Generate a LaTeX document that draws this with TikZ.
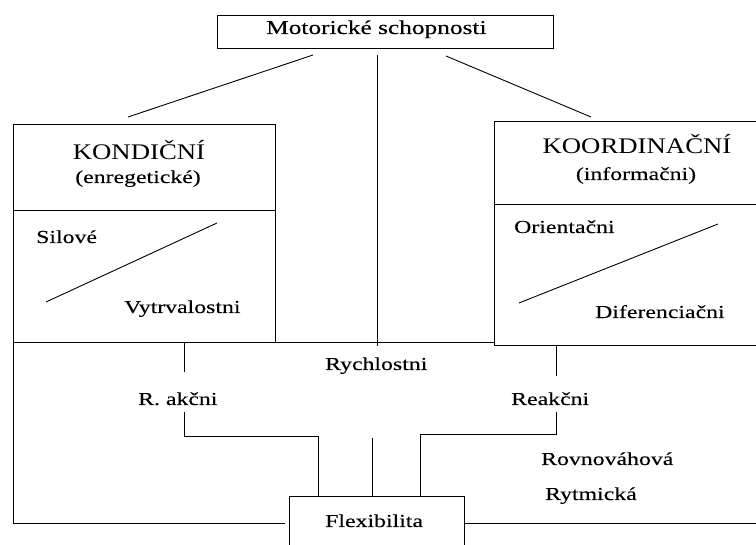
\documentclass[tikz,border=0pt]{standalone}
\usepackage{fontspec}
\setmainfont{Liberation Serif}[FakeStretch=1.3,FakeBold=0.15]
\newfontfamily\headfont{Liberation Serif}[FakeStretch=1.2]
\begin{document}
\begin{tikzpicture}[x=1pt,y=-1pt,
  ln/.style={line width=0.9pt,black},
  lbl/.style={anchor=base west,inner sep=0pt,font=\fontsize{18.3}{21}\selectfont},
  head/.style={anchor=base,inner sep=0pt,font=\headfont\fontsize{22.3}{26}\selectfont},
  sub/.style={anchor=base,inner sep=0pt,font=\fontsize{18.3}{21}\selectfont}]
\useasboundingbox (0,0) rectangle (756,545);
% top box
\draw[ln] (217,15) rectangle (553,48);
\node[lbl,font=\fontsize{19.5}{22}\selectfont] (mot) at (266,34) {Motorické schopnosti};
% left box
\draw[ln] (13,124) rectangle (275,342);
\draw[ln] (13,210) -- (275,210);
\node[head] (kon) at (139,160) {KONDIČNÍ};
\node[sub] (kons) at (138,183) {(enregetické)};
\node[lbl] (sil) at (36,243) {Silové};
\node[lbl] (vyt) at (124,313) {Vytrvalostni};
\coordinate (d1a) at (217,223); \coordinate (d1b) at (46,302);
\draw[ln] (d1a) -- (d1b);
% right box (open on the right)
\draw[ln] (756,121) -- (494,121) -- (494,345) -- (756,345);
\draw[ln] (494,204) -- (756,204);
\node[head] (koo) at (637,154) {KOORDINAČNÍ};
\node[sub] (koos) at (636,180) {(informačni)};
\node[lbl] (ori) at (514,233) {Orientačni};
\node[lbl] (dif) at (595,318) {Diferenciačni};
\coordinate (d2a) at (718,224); \coordinate (d2b) at (519,303);
\draw[ln] (d2a) -- (d2b);
% links from top
\coordinate (t1) at (313,55); \coordinate (t1e) at (128,117);
\coordinate (t2) at (446,56); \coordinate (t2e) at (591,117);
\coordinate (t3) at (377,55); \coordinate (t3e) at (377,346);
\draw[ln] (t1) -- (t1e);
\draw[ln] (t2) -- (t2e);
\draw[ln] (t3) -- (t3e);
% outer frame
\draw[ln] (13,342) -- (13,523) -- (285,523);
\draw[ln] (275,342) -- (494,342);
\draw[ln] (465,523) -- (756,523);
% Flexibilita box
\draw[ln] (289,545) -- (289,496) -- (464,496) -- (464,545);
\node[lbl] (flex) at (325,527) {Flexibilita};
% middle texts
\node[lbl] (rych) at (325,370) {Rychlostni};
\node[lbl] (rak) at (138,405) {R. akčni};
\node[lbl] (rea) at (511,405) {Reakčni};
\node[lbl] (rov) at (541,465) {Rovnováhová};
\node[lbl] (ryt) at (545,500) {Rytmická};
% connectors to Flexibilita
\draw[ln] (184,342) -- (184,372);
\draw[ln] (184,412) -- (184,436) -- (318,436) -- (318,496);
\draw[ln] (372,438) -- (372,496);
\draw[ln] (556,345) -- (556,376);
\draw[ln] (556,412) -- (556,434) -- (420,434) -- (420,496);
\end{tikzpicture}
\end{document}
